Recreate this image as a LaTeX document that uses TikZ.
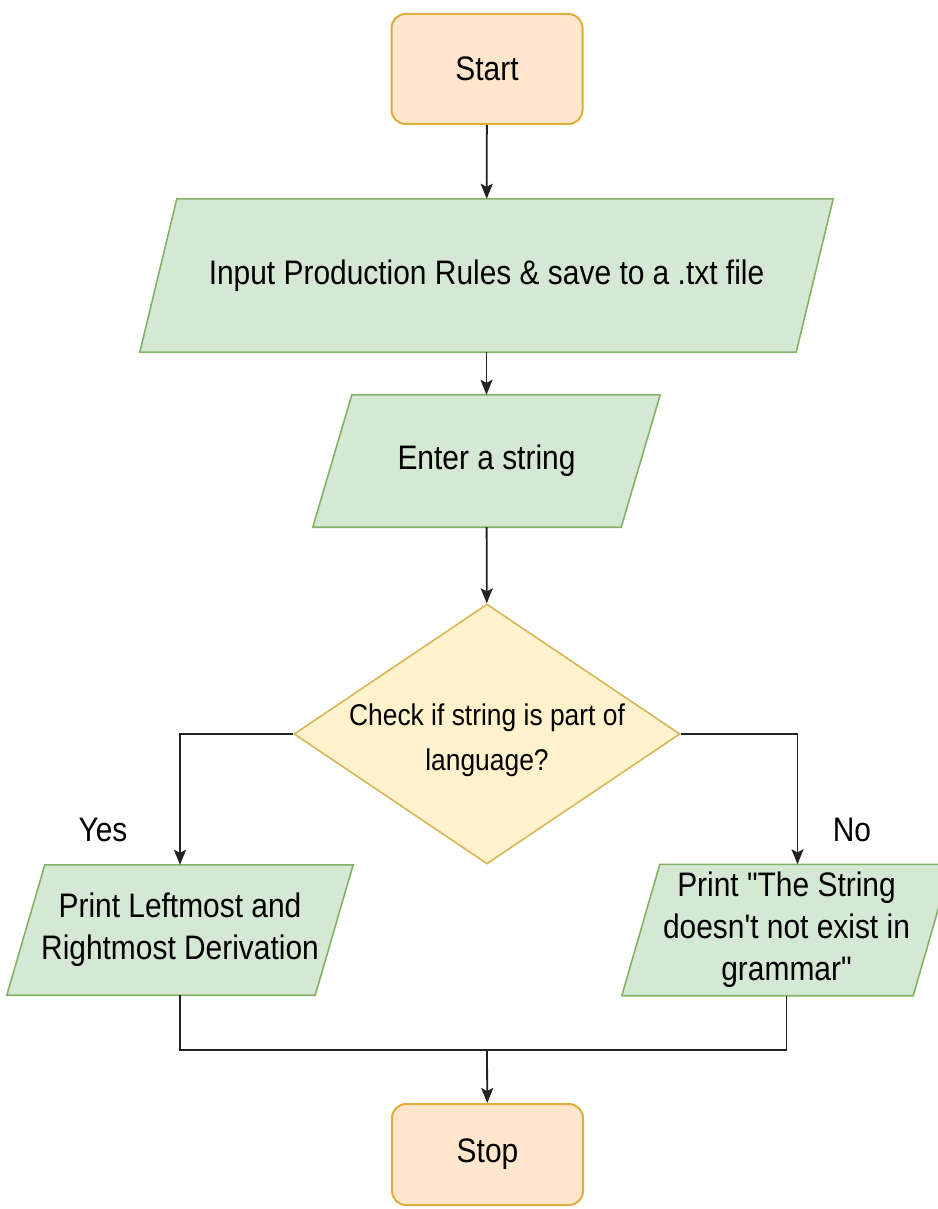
\documentclass[tikz,border=0pt]{standalone}
\usepackage{fontspec}
\setmainfont{Liberation Sans}[FakeStretch=0.88,Ligatures=TeXOff]
\usetikzlibrary{shapes.geometric,arrows.meta,backgrounds}
\definecolor{ofill}{HTML}{FFE6CC}
\definecolor{oline}{HTML}{E0AC3A}
\definecolor{gfill}{HTML}{D5E8D4}
\definecolor{gline}{HTML}{82B366}
\definecolor{yfill}{HTML}{FFF2CC}
\definecolor{yline}{HTML}{D6B656}
\definecolor{lnc}{HTML}{222222}
\newcommand\pgramshape[2]{%
  \path[pgramline] ([xshift=#2/2]#1.north west) -- ([xshift=#2/2]#1.north east)
    -- ([xshift=-#2/2]#1.south east) -- ([xshift=-#2/2]#1.south west) -- cycle;}
\begin{document}
\begin{tikzpicture}[x=1pt,y=-1pt,
  term/.style={draw=oline,fill=ofill,line width=2pt,rounded corners=14pt,
    minimum width=191pt,minimum height=110pt,inner sep=0pt,
    font=\fontsize{34}{40}\selectfont},
  io/.style={rectangle,inner sep=0pt,align=center,
    font=\fontsize{34}{42}\selectfont},
  pgramline/.style={draw=gline,fill=gfill,line width=1.6pt,line join=miter},
  decbox/.style={draw=yline,fill=yfill,line width=1.6pt,diamond,
    minimum width=386pt,minimum height=260pt,inner sep=0pt},
  lbl/.style={inner sep=0pt,align=center,font=\fontsize{34}{42}\selectfont},
  conn/.style={line width=1.8pt,draw=lnc,-{Stealth[length=15pt,width=12pt,inset=3pt]}},
  plain/.style={line width=1.8pt,draw=lnc}
]
\useasboundingbox (0,0) rectangle (937,1209);

\node[term] (start) at (487,69) {Start};
\node[io,minimum width=656pt,minimum height=153pt]
  (rules) at (486.5,275.5) {Input Production Rules \& save to a .txt file};
\node[io,minimum width=308pt,minimum height=132pt]
  (enter) at (486.5,461) {Enter a string};
\node[decbox] (check) at (487,734) {};
\node[lbl,font=\fontsize{30}{45}\selectfont] (checktext) at (487,740)
  {Check if string is part of\\language?};
\node[io,minimum width=308pt,minimum height=130pt]
  (yesbox) at (180,930) {Print Leftmost and\\Rightmost Derivation};
\node[io,minimum width=291pt,minimum height=131pt]
  (nobox) at (786.5,930) {Print "The String\\doesn't not exist in\\grammar"};
\node[term,minimum height=101pt] (stop) at (487.5,1154.5) {\raisebox{-3pt}{Stop}};
\node[lbl] (yes) at (103,830) {Yes};
\node[lbl] (no) at (852,830) {No};
\coordinate (merge) at (487,1050);

\begin{scope}[on background layer]
  \pgramshape{rules}{37}
  \pgramshape{enter}{39}
  \pgramshape{yesbox}{38}
  \pgramshape{nobox}{38}
\end{scope}

\draw[conn] (start) -- (rules);
\draw[conn] (rules) -- (enter);
\draw[conn] (enter) -- (check);
\draw[conn] (check.west) -| (yesbox.north);
\draw[conn] (check.east) -| ([xshift=11pt]nobox.north);
\draw[plain] (yesbox.south) |- (merge);
\draw[plain] (nobox.south) |- (merge);
\draw[conn] (merge) -- (stop);
\end{tikzpicture}
\end{document}
